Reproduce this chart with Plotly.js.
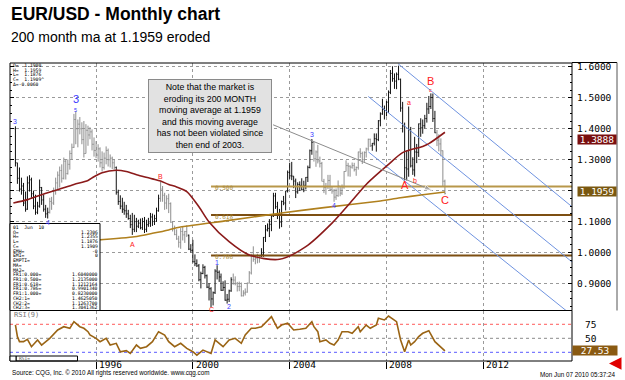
<!DOCTYPE html>
<html>
<head>
<meta charset="utf-8">
<script src="https://cdn.plot.ly/plotly-3.0.1.min.js"></script>
<style>
  html, body { margin: 0; padding: 0; background: #fff; }
  #chart { width: 625px; height: 380px; }
</style>
</head>
<body>
<div id="chart"></div>
<script>
// ---------------------------------------------------------------
// EUR/USD monthly bars, September 1992 to June 2010
// ---------------------------------------------------------------
const firstMonth = [1992, 9];

const opens = [
  1.400,1.290,1.240,1.205,                                                  // 1992
  1.215,1.160,1.140,1.225,1.235,1.190,1.150,1.130,1.150,1.210,1.170,1.140,  // 1993
  1.125,1.130,1.165,1.160,1.200,1.225,1.250,1.265,1.240,1.295,1.255,1.285,  // 1994
  1.320,1.340,1.430,1.400,1.415,1.400,1.365,1.320,1.395,1.380,1.390,1.350,  // 1995
  1.330,1.315,1.335,1.290,1.275,1.305,1.330,1.300,1.305,1.290,1.275,1.195,  // 1996
  1.165,1.150,1.140,1.135,1.125,1.110,1.090,1.075,1.100,1.085,1.095,1.080,  // 1997
  1.100,1.075,1.090,1.095,1.115,1.100,1.110,1.135,1.175,1.205,1.185,1.160,  // 1998
  1.174,1.158,1.098,1.077,1.058,1.044,1.033,1.068,1.057,1.068,1.056,1.011,  // 1999
  1.007,0.970,0.964,0.957,0.912,0.932,0.952,0.925,0.888,0.883,0.850,0.870,  // 2000
  0.940,0.936,0.921,0.878,0.887,0.846,0.849,0.876,0.912,0.911,0.900,0.890,  // 2001
  0.890,0.860,0.869,0.872,0.901,0.934,0.991,0.978,0.981,0.986,0.988,0.994,  // 2002
  1.049,1.073,1.078,1.091,1.118,1.183,1.148,1.125,1.098,1.165,1.160,1.199,  // 2003
  1.259,1.248,1.247,1.231,1.196,1.220,1.217,1.203,1.217,1.243,1.275,1.329,  // 2004
  1.356,1.303,1.325,1.296,1.288,1.230,1.210,1.213,1.233,1.203,1.199,1.179,  // 2005
  1.184,1.215,1.192,1.212,1.262,1.281,1.279,1.276,1.281,1.268,1.275,1.325,  // 2006
  1.320,1.300,1.323,1.335,1.366,1.345,1.353,1.368,1.365,1.426,1.448,1.463,  // 2007
  1.459,1.486,1.518,1.579,1.562,1.554,1.576,1.560,1.467,1.409,1.274,1.270,  // 2008
  1.397,1.280,1.267,1.325,1.324,1.416,1.403,1.410,1.433,1.464,1.472,1.501,  // 2009
  1.433,1.387,1.363,1.351,1.329,1.2306                                      // 2010
];
const highs = [
  1.408,1.290,1.275,1.242,
  1.225,1.197,1.246,1.250,1.242,1.200,1.187,1.164,1.236,1.212,1.187,1.154,
  1.145,1.177,1.180,1.210,1.242,1.262,1.278,1.285,1.307,1.301,1.301,1.330,
  1.352,1.448,1.457,1.430,1.438,1.421,1.425,1.415,1.410,1.405,1.398,1.372,
  1.360,1.350,1.340,1.327,1.323,1.343,1.336,1.317,1.310,1.301,1.278,1.203,
  1.185,1.177,1.164,1.154,1.138,1.122,1.128,1.122,1.112,1.106,1.110,1.112,
  1.115,1.106,1.112,1.128,1.126,1.122,1.145,1.187,1.229,1.215,1.193,1.185,
  1.190,1.162,1.100,1.087,1.075,1.054,1.079,1.083,1.070,1.088,1.058,1.027,
  1.041,0.994,0.978,0.963,0.938,0.962,0.957,0.929,0.901,0.888,0.874,0.946,
  0.959,0.942,0.932,0.907,0.910,0.866,0.880,0.920,0.932,0.923,0.905,0.906,
  0.903,0.878,0.884,0.903,0.940,0.996,1.020,0.991,0.996,0.992,1.014,1.050,
  1.089,1.094,1.108,1.123,1.193,1.193,1.164,1.141,1.168,1.183,1.199,1.265,
  1.290,1.293,1.247,1.239,1.227,1.230,1.240,1.232,1.244,1.281,1.333,1.367,
  1.358,1.330,1.348,1.310,1.293,1.238,1.225,1.251,1.251,1.214,1.206,1.207,
  1.233,1.215,1.220,1.263,1.298,1.290,1.282,1.291,1.290,1.278,1.326,1.337,
  1.326,1.327,1.339,1.368,1.368,1.354,1.385,1.385,1.428,1.453,1.497,1.475,
  1.490,1.524,1.590,1.602,1.579,1.582,1.604,1.562,1.487,1.420,1.330,1.472,
  1.406,1.308,1.374,1.351,1.417,1.434,1.430,1.445,1.484,1.506,1.5144,1.514,
  1.458,1.396,1.382,1.369,1.330,1.2355
];
const lows = [
  1.278,1.222,1.197,1.187,
  1.150,1.132,1.138,1.197,1.177,1.140,1.122,1.124,1.145,1.154,1.132,1.112,
  1.110,1.126,1.138,1.154,1.187,1.200,1.210,1.226,1.236,1.236,1.252,1.268,
  1.300,1.338,1.350,1.340,1.382,1.350,1.307,1.320,1.345,1.366,1.330,1.310,
  1.305,1.294,1.275,1.262,1.268,1.285,1.278,1.275,1.270,1.268,1.187,1.154,
  1.140,1.128,1.122,1.112,1.106,1.079,1.057,1.066,1.066,1.079,1.075,1.073,
  1.063,1.066,1.083,1.083,1.086,1.089,1.099,1.132,1.164,1.164,1.138,1.140,
  1.1275,1.096,1.068,1.056,1.041,1.016,1.012,1.039,1.031,1.050,1.008,1.000,
  0.968,0.956,0.953,0.907,0.884,0.930,0.916,0.885,0.845,0.823,0.829,0.866,
  0.913,0.905,0.876,0.876,0.844,0.835,0.840,0.873,0.896,0.894,0.874,0.875,
  0.858,0.858,0.861,0.870,0.900,0.929,0.970,0.962,0.965,0.967,0.986,0.986,
  1.034,1.068,1.050,1.069,1.115,1.141,1.108,1.077,1.082,1.153,1.136,1.194,
  1.238,1.234,1.208,1.176,1.190,1.199,1.201,1.195,1.204,1.228,1.272,1.316,
  1.294,1.277,1.288,1.275,1.230,1.192,1.187,1.205,1.199,1.190,1.164,1.170,
  1.180,1.182,1.186,1.206,1.262,1.246,1.245,1.271,1.262,1.248,1.268,1.306,
  1.286,1.293,1.307,1.329,1.341,1.329,1.346,1.326,1.360,1.408,1.445,1.430,
  1.440,1.451,1.512,1.552,1.529,1.528,1.557,1.455,1.388,1.233,1.233,1.245,
  1.275,1.251,1.2456,1.289,1.309,1.374,1.384,1.401,1.420,1.448,1.464,1.422,
  1.386,1.344,1.327,1.311,1.214,1.1876
];
const closes = [
  1.290,1.240,1.205,1.215,
  1.160,1.140,1.225,1.235,1.190,1.150,1.130,1.150,1.210,1.170,1.140,1.125,
  1.130,1.165,1.160,1.200,1.225,1.250,1.265,1.240,1.295,1.255,1.285,1.320,
  1.340,1.430,1.400,1.415,1.400,1.365,1.320,1.395,1.380,1.390,1.350,1.330,
  1.315,1.335,1.290,1.275,1.305,1.330,1.300,1.305,1.290,1.275,1.195,1.165,
  1.150,1.140,1.135,1.125,1.110,1.090,1.075,1.100,1.085,1.095,1.080,1.100,
  1.075,1.090,1.095,1.115,1.100,1.110,1.135,1.175,1.205,1.185,1.160,1.174,
  1.158,1.098,1.077,1.058,1.044,1.033,1.068,1.057,1.068,1.056,1.011,1.007,
  0.970,0.964,0.957,0.912,0.932,0.952,0.925,0.888,0.883,0.850,0.870,0.940,
  0.936,0.921,0.878,0.887,0.846,0.849,0.876,0.912,0.911,0.900,0.890,0.890,
  0.860,0.869,0.872,0.901,0.934,0.991,0.978,0.981,0.986,0.988,0.994,1.049,
  1.073,1.078,1.091,1.118,1.183,1.148,1.125,1.098,1.165,1.160,1.199,1.259,
  1.248,1.247,1.231,1.196,1.220,1.217,1.203,1.217,1.243,1.275,1.329,1.356,
  1.303,1.325,1.296,1.288,1.230,1.210,1.213,1.233,1.203,1.199,1.179,1.184,
  1.215,1.192,1.212,1.262,1.281,1.279,1.276,1.281,1.268,1.275,1.325,1.320,
  1.300,1.323,1.335,1.366,1.345,1.353,1.368,1.365,1.426,1.448,1.463,1.459,
  1.486,1.518,1.579,1.562,1.554,1.576,1.560,1.467,1.409,1.274,1.270,1.397,
  1.280,1.267,1.325,1.324,1.416,1.403,1.410,1.433,1.464,1.472,1.501,1.433,
  1.387,1.363,1.351,1.329,1.2306,1.1909
];

// wave stretches drawn in grey rather than black
const grayPeriods = [
  ['1994-02-01', '1996-10-01'],
  ['1998-09-01', '1999-10-01'],
  ['2001-09-01', '2002-10-01'],
  ['2005-01-01', '2007-05-01'],
  ['2010-02-01', '2010-06-01']
];

// moving averages
const maDates = ['1992-08-01','1993-03-01','1993-10-01','1994-06-01','1995-02-01','1995-09-01','1995-12-01',
  '1996-04-01','1996-11-01','1997-04-01','1997-10-01','1998-05-01','1998-09-01','1999-01-01','1999-05-01',
  '1999-10-01','2000-04-01','2000-09-01','2001-07-01','2002-05-01','2003-08-01','2004-09-01','2005-10-01',
  '2006-07-01','2007-03-01','2007-11-01','2008-02-01','2008-09-01','2009-07-01','2009-10-01','2010-06-01'];
const maValues = [1.160,1.171,1.187,1.203,1.220,1.233,1.245,1.258,1.266,1.262,1.250,1.238,1.231,1.220,1.212,
  1.197,1.148,1.099,1.035,0.992,0.978,1.019,1.095,1.160,1.220,1.268,1.285,1.323,1.343,1.352,1.3888];

const ma200Dates = ['1996-01-01','1997-08-01','1998-05-01','1999-01-01','1999-05-01','2001-06-01','2003-08-01',
  '2005-06-01','2007-09-01','2008-07-01','2009-07-01','2010-06-01'];
const ma200Values = [1.040,1.051,1.062,1.073,1.080,1.103,1.127,1.145,1.166,1.176,1.187,1.1959];

// Fibonacci retracement of the 1.6040 -> 0.8230 range
const fibStart = '2000-10-01';
const fibEnd = '2015-09-01';
const fibRatios = ['0.500', '0.618', '0.786'];
const fibLevels = [1.2135, 1.1212164, 0.990134];

// descending channel
const channelLines = [
  [['2008-06-25', 1.610], ['2015-09-01', 1.148]],
  [['2007-04-01', 1.5045], ['2015-09-01', 0.9696]],
  [['2007-04-01', 1.3256], ['2015-06-03', 0.8126]]
];

// trend line ending in an arrow
const trendLine = [['2003-04-25', 1.413], ['2009-11-19', 1.201]];

// wave counts
const waveLabels = [
  ['3', '1992-09-01', 1.425, 'blueS'],
  ['3', '1995-03-01', 1.496, 'blueL'],
  ['5', '1995-03-01', 1.461, 'blueXS'],
  ['4', '1994-01-01', 1.098, 'blueS'],
  ['A', '1997-07-01', 1.026, 'redS'],
  ['B', '1998-09-01', 1.246, 'redS'],
  ['C', '2000-10-01', 0.817, 'redS'],
  ['1', '2001-01-01', 0.968, 'blueS'],
  ['2', '2001-07-01', 0.826, 'blueS'],
  ['3', '2004-12-01', 1.382, 'blueS'],
  ['4', '2005-11-01', 1.152, 'blueS'],
  ['5', '2008-07-01', 1.615, 'darkS'],
  ['A', '2008-10-01', 1.219, 'redL'],
  ['a', '2008-12-01', 1.484, 'redS'],
  ['b', '2009-03-01', 1.232, 'redS'],
  ['B', '2009-11-01', 1.553, 'redL'],
  ['c', '2009-11-01', 1.525, 'redXS'],
  ['C', '2010-06-01', 1.171, 'redL']
];

// RSI(9)
const rsiDates = ['1992-09-01','1992-10-01','1992-11-01','1993-01-01','1993-03-01','1993-05-01','1993-08-01',
  '1993-10-01','1994-02-01','1994-06-01','1994-09-01','1994-12-01','1995-02-01','1995-05-01','1995-07-01',
  '1995-09-01','1995-10-01','1996-01-01','1996-03-01','1996-06-01','1996-08-01','1996-11-01','1997-01-01',
  '1997-04-01','1997-06-01','1997-09-01','1997-11-01','1998-02-01','1998-05-01','1998-08-01','1998-11-01',
  '1999-01-01','1999-04-01','1999-07-01','1999-10-01','2000-01-01','2000-03-01','2000-06-01','2000-10-01',
  '2000-12-01','2001-02-01','2001-04-01','2001-07-01','2001-10-01','2002-01-01','2002-03-01','2002-06-01',
  '2002-08-01','2002-11-01','2003-02-01','2003-04-01','2003-07-01','2003-09-01','2003-12-01','2004-03-01',
  '2004-06-01','2004-09-01','2004-12-01','2005-01-01','2005-03-01','2005-04-01','2005-07-01','2005-09-01',
  '2005-11-01','2006-01-01','2006-03-01','2006-06-01','2006-08-01','2006-11-01','2006-12-01','2007-03-01',
  '2007-05-01','2007-08-01','2007-09-01','2007-12-01','2008-02-01','2008-05-01','2008-06-01','2008-08-01',
  '2008-10-01','2008-12-01','2009-01-01','2009-03-01','2009-05-01','2009-07-01','2009-10-01','2010-01-01',
  '2010-03-01','2010-05-01','2010-06-01'];
const rsiValues = [73.8,52.9,44,44,48,35,47,38,50,64.8,70.7,67.8,79.7,70.7,67.8,61.8,55.9,50,44,50,38,41,
  26,27.9,23,38,32,35,44,61.8,55.9,44,35,41,32,26,20,29,23,47,41,35,47,50,41,55.9,67.8,67.8,70.7,82.7,88.6,
  67.8,73.7,76.8,64.8,66,67.8,79.7,70.7,61.8,44,47,41,38,47,61.8,61.8,59,70.7,61.8,73.7,67.8,73.7,85.7,82.7,
  89.8,82.7,79.7,47,26,47,38,44,53,59,63.6,44,38,31,27.53];
const rsiLevels = [75, 50, 25];

// last values shown on the price scale
const lastMA = 1.3888;
const lastMA200 = 1.1959;
const lastRSI = 27.53;

// axes
const priceTicks = [0.9, 1.0, 1.1, 1.2, 1.3, 1.4, 1.5, 1.6];
const hiddenPriceLabels = [1.2];
const yearTicks = ['1996-01-01', '2000-01-01', '2004-01-01', '2008-01-01', '2012-01-01'];
const yearLabels = ['1996', '2000', '2004', '2008', '2012'];

// read-outs
const cursorLines = ['O=  1.1900', 'H=  1.1959', 'L=  1.1876', 'C=  1.1909^', '\u0394=-0.0060'];
const tableRows = [
  ['01  Jun  10', ''], ['O=', '1.2306'], ['H=', '1.2355'], ['L=', '1.1876'], ['C=', '1.1909'],
  ['EMH=', '-0'], ['EMI=', '0'], ['EMPTI=', ''], ['MA=', ''], ['MA2=', ''],
  ['FR1:0.000=', '1.6040000'], ['FR1:0.500=', '1.2135000'], ['FR1:0.618=', '1.1212164'],
  ['FR1:0.786=', '0.9901340'], ['FR1:1.000=', '0.8230000'],
  ['CH2:1=', '1.4625050'], ['CH2:2=', '1.1263700'], ['CH2:3=', '1.3041362']
];
const noteText = 'Note that the market is<br>eroding its 200 MONTH<br>moving average at 1.1959<br>' +
  'and this moving average<br>has not been violated since<br>then end of 2003.';

// ---------------------------------------------------------------
// geometry helpers (pixel position -> paper fraction)
// ---------------------------------------------------------------
const W = 625, H = 380, ML = 10, MR = 53, MT = 63, MB = 19;
const PW = W - ML - MR, PH = H - MT - MB;
const px = x => (x - ML) / PW;
const py = y => (H - MB - y) / PH;
const mainBottom = py(310.5);

const MONO = 'DejaVu Sans Mono, monospace';
const SANS = 'Liberation Sans, Arial, sans-serif';
const TINY = 4.7;

// month dates for the bars
const months = opens.map((_, i) => {
  const m0 = firstMonth[1] - 1 + i;
  const y = firstMonth[0] + Math.floor(m0 / 12);
  const m = (m0 % 12) + 1;
  return y + '-' + String(m).padStart(2, '0') + '-01';
});
const isGray = d => grayPeriods.some(([a, b]) => d >= a && d <= b);

function barTrace(filter, color) {
  const idx = months.map((d, i) => i).filter(i => filter(months[i]));
  return {
    type: 'ohlc', xaxis: 'x', yaxis: 'y', hoverinfo: 'skip',
    x: idx.map(i => months[i]),
    open: idx.map(i => opens[i]), high: idx.map(i => highs[i]),
    low: idx.map(i => lows[i]), close: idx.map(i => closes[i]),
    increasing: { line: { color: color, width: 1 } },
    decreasing: { line: { color: color, width: 1 } },
    tickwidth: 0.45
  };
}

const traces = [];

// Fibonacci levels
const fibColors = ['#b8974a', '#7d4f12', '#7d4f12'];
fibLevels.forEach((v, i) => traces.push({
  type: 'scatter', mode: 'lines', x: [fibStart, fibEnd], y: [v, v], hoverinfo: 'skip',
  line: { color: fibColors[i], width: 2 }
}));

// channel
channelLines.forEach(seg => traces.push({
  type: 'scatter', mode: 'lines', x: seg.map(p => p[0]), y: seg.map(p => p[1]), hoverinfo: 'skip',
  line: { color: '#6f93e0', width: 1 }
}));

// bars
traces.push(barTrace(d => !isGray(d), '#111111'));
traces.push(barTrace(d => isGray(d), '#8e8e8e'));

// averages
traces.push({
  type: 'scatter', mode: 'lines', x: ma200Dates, y: ma200Values, hoverinfo: 'skip',
  line: { color: '#b0801e', width: 1.6, shape: 'spline', smoothing: 0.6 }
});
traces.push({
  type: 'scatter', mode: 'lines', x: maDates, y: maValues, hoverinfo: 'skip',
  line: { color: '#8b1a1a', width: 1.6, shape: 'spline', smoothing: 0.8 }
});

// trend line with arrowhead
traces.push({
  type: 'scatter', mode: 'lines+markers', x: trendLine.map(p => p[0]), y: trendLine.map(p => p[1]),
  hoverinfo: 'skip', line: { color: '#8c8c8c', width: 1 },
  marker: { symbol: ['circle', 'arrow'], size: [0, 8], angleref: 'previous', color: '#8c8c8c' }
});

// RSI guide levels and line
const rsiLevelColors = ['#ff5a5a', '#8a8a8a', '#5a5aff'];
rsiLevels.forEach((v, i) => traces.push({
  type: 'scatter', mode: 'lines', xaxis: 'x', yaxis: 'y2', hoverinfo: 'skip',
  x: ['1992-06-11', '2015-09-01'], y: [v, v],
  line: { color: rsiLevelColors[i], width: 1, dash: 'dot' }
}));
traces.push({
  type: 'scatter', mode: 'lines', xaxis: 'x', yaxis: 'y2', x: rsiDates, y: rsiValues, hoverinfo: 'skip',
  line: { color: '#9a6414', width: 1.6 }
});

// ---------------------------------------------------------------
// annotations
// ---------------------------------------------------------------
const ann = [];
const waveStyle = {
  blueXS: { color: '#3a3aff', size: 5.5 }, blueS: { color: '#3a3aff', size: 7 },
  blueL: { color: '#3a3aff', size: 11 },
  redXS: { color: '#ff2020', size: 5.5 }, redS: { color: '#ff2020', size: 7 },
  redL: { color: '#ff2020', size: 11 },
  darkS: { color: '#333', size: 7 }
};
waveLabels.forEach(([t, d, v, s]) => ann.push({
  x: d, y: v, xref: 'x', yref: 'y', text: t, showarrow: false, borderpad: 0,
  font: { family: SANS, size: waveStyle[s].size, color: waveStyle[s].color }
}));

fibRatios.forEach((t, i) => ann.push({
  x: '2000-11-01', y: fibLevels[i], xref: 'x', yref: 'y', text: t, showarrow: false,
  xanchor: 'left', yanchor: 'middle', yshift: -1,
  font: { family: MONO, size: 6, color: '#a88a3a' }
}));

// year labels beside their tick marks
yearTicks.forEach((d, i) => ann.push({
  x: d, y: py(364.5), xref: 'x', yref: 'paper', xanchor: 'left', yanchor: 'middle', xshift: 1,
  text: yearLabels[i], showarrow: false, font: { family: MONO, size: 9.5, color: '#000' }
}));

// note box
ann.push({
  x: px(210), y: py(116), xref: 'paper', yref: 'paper', xanchor: 'center', yanchor: 'middle',
  text: noteText, showarrow: false, width: 120, height: 70, align: 'center',
  bgcolor: '#e2e2e2', bordercolor: '#8a8a8a', borderwidth: 1, borderpad: 1,
  font: { family: SANS, size: 8.8, color: '#000' }
});

// value tags on the scale
function tag(v, yref, text, bg, shift) {
  return {
    x: px(577), y: v, xref: 'paper', yref: yref, xanchor: 'left', yanchor: 'middle', yshift: shift,
    text: text, showarrow: false, width: 38, height: 9, align: 'center', bgcolor: bg, borderpad: 0,
    font: { family: MONO, size: 9.5, color: '#fff' }
  };
}
ann.push(tag(lastMA, 'y', lastMA.toFixed(4), '#7a0f0f', -7));
ann.push(tag(lastMA200, 'y', lastMA200.toFixed(4), '#7a5810', 0));
ann.push(Object.assign(tag(lastRSI, 'y2', lastRSI.toFixed(2), '#8a5a12', 0), { x: px(572), width: 44 }));

// cursor read-out (top left)
cursorLines.forEach((t, i) => ann.push({
  x: px(12), y: py(65.5 + i * 4.7), xref: 'paper', yref: 'paper', xanchor: 'left', yanchor: 'middle',
  text: t, showarrow: false, borderpad: 0, font: { family: MONO, size: TINY, color: '#000' }
}));

// data box (bottom left)
tableRows.forEach(([k, v], i) => {
  const yy = py(227.5 + i * 4.73);
  ann.push({ x: px(12), y: yy, xref: 'paper', yref: 'paper', xanchor: 'left', yanchor: 'middle',
    text: k, showarrow: false, borderpad: 0, font: { family: MONO, size: TINY, color: '#000' } });
  if (v) ann.push({ x: px(99), y: yy, xref: 'paper', yref: 'paper', xanchor: 'right', yanchor: 'middle',
    text: v, showarrow: false, borderpad: 0, font: { family: MONO, size: TINY, color: '#000' } });
});

// RSI panel captions
ann.push({ x: px(12), y: py(314.5), xref: 'paper', yref: 'paper', xanchor: 'left', yanchor: 'middle',
  text: 'RSI(9)', showarrow: false, font: { family: MONO, size: 7, color: '#777' } });
ann.push({ x: px(18), y: py(358.5), xref: 'paper', yref: 'paper', xanchor: 'left', yanchor: 'middle',
  text: 'RSI=', showarrow: false, borderpad: 0, font: { family: MONO, size: 4.5, color: '#555' } });

// subtitle and footers
ann.push({ x: px(9), y: py(36.5), xref: 'paper', yref: 'paper', xanchor: 'left', yanchor: 'middle',
  text: '200 month ma at 1.1959 eroded', showarrow: false, font: { family: SANS, size: 14, color: '#000' } });
ann.push({ x: px(10), y: py(373), xref: 'paper', yref: 'paper', xanchor: 'left', yanchor: 'middle',
  text: 'Source: CQG, Inc. \u00a9 2010 All rights reserved worldwide. www.cqg.com', showarrow: false,
  font: { family: SANS, size: 6.3, color: '#000' } });
ann.push({ x: px(617), y: py(374), xref: 'paper', yref: 'paper', xanchor: 'right', yanchor: 'middle',
  text: 'Mon Jun 07 2010 05:37:24', showarrow: false, font: { family: SANS, size: 6.3, color: '#000' } });
ann.push({ x: px(609), y: py(363.5), xref: 'paper', yref: 'paper', ax: 10, ay: 0, text: '',
  showarrow: true, arrowhead: 2, arrowsize: 1, arrowwidth: 2.5, arrowcolor: '#e00000' });

// ---------------------------------------------------------------
// panel frames
// ---------------------------------------------------------------
const shapes = [
  { type: 'rect', xref: 'paper', yref: 'paper', x0: 0, x1: 1, y0: mainBottom, y1: 1,
    line: { color: '#000', width: 1 } },
  { type: 'rect', xref: 'paper', yref: 'paper', x0: 0, x1: 1, y0: 0, y1: mainBottom,
    line: { color: '#000', width: 1 } },
  { type: 'line', xref: 'paper', yref: 'paper', x0: 1, x1: px(617), y0: py(62.5), y1: py(62.5),
    line: { color: '#000', width: 1 } },
  { type: 'line', xref: 'paper', yref: 'paper', x0: px(617), x1: px(617), y0: py(62.5), y1: mainBottom,
    line: { color: '#555', width: 1 } },
  // data box
  { type: 'rect', xref: 'paper', yref: 'paper', x0: 0, x1: px(100), y0: mainBottom, y1: py(223.5),
    fillcolor: '#fff', line: { color: '#000', width: 1 }, layer: 'above' },
  // RSI read-out strip
  { type: 'rect', xref: 'paper', yref: 'paper', x0: px(16), x1: px(77.5), y0: 0, y1: py(356),
    line: { color: '#000', width: 1 } },
  { type: 'rect', xref: 'paper', yref: 'paper', x0: 0, x1: px(16), y0: 0, y1: py(356),
    fillcolor: '#fff', line: { color: '#000', width: 1 } }
];

const layout = {
  width: W, height: H,
  margin: { l: ML, r: MR, t: MT, b: MB },
  paper_bgcolor: '#fff', plot_bgcolor: '#fff',
  showlegend: false,
  title: {
    text: '<b>EUR/USD - Monthly chart</b>', x: 11 / W, xanchor: 'left', xref: 'container',
    y: 1 - 13.5 / H, yanchor: 'middle', yref: 'container',
    font: { family: SANS, size: 17.5, color: '#000' }
  },
  xaxis: {
    type: 'date', range: ['1992-06-11', '2015-09-01'], anchor: 'y2',
    rangeslider: { visible: false },
    tickmode: 'array', tickvals: yearTicks, ticktext: yearLabels, showticklabels: false,
    ticks: 'outside', ticklen: 7, tickwidth: 1, tickcolor: '#000',
    showgrid: true, gridcolor: '#9a9a9a', griddash: 'dot', gridwidth: 1,
    showline: false, zeroline: false, fixedrange: true
  },
  yaxis: {
    domain: [mainBottom, 1], range: [0.8126, 1.6126], side: 'right', anchor: 'x',
    tickmode: 'array', tickvals: priceTicks,
    ticktext: priceTicks.map(v => hiddenPriceLabels.includes(v) ? '' : v.toFixed(4)),
    ticks: 'inside', ticklen: 4, tickcolor: '#000', mirror: 'allticks',
    minor: { ticks: 'inside', ticklen: 2, dtick: 0.025, tickcolor: '#000', showgrid: false },
    ticklabelstandoff: 4,
    tickfont: { family: MONO, size: 9.5, color: '#000' },
    showgrid: true, gridcolor: '#9a9a9a', griddash: 'dot', gridwidth: 1,
    showline: false, zeroline: false, fixedrange: true
  },
  yaxis2: {
    domain: [0, mainBottom], range: [9.5, 99.6], side: 'right', anchor: 'x',
    tickmode: 'array', tickvals: [50, 75], ticktext: ['50', '75'],
    ticks: '', ticklabelstandoff: 12,
    tickfont: { family: MONO, size: 9.5, color: '#000' },
    showgrid: false, showline: false, zeroline: false, fixedrange: true
  },
  annotations: ann,
  shapes: shapes
};

Plotly.newPlot('chart', traces, layout, { staticPlot: true, displayModeBar: false });
</script>
</body>
</html>
